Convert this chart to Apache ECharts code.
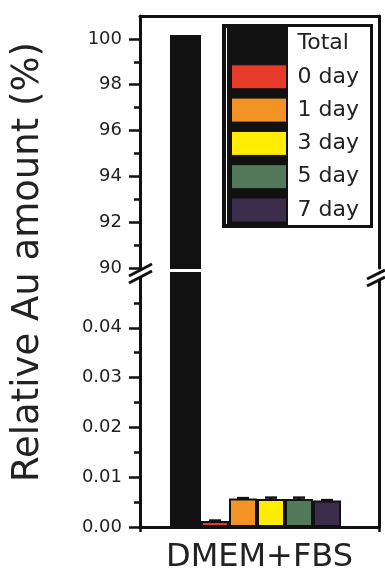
<!DOCTYPE html>
<html><head><meta charset="utf-8">
<script src="https://cdn.jsdelivr.net/npm/echarts@6/dist/echarts.min.js"></script>
<style>html,body{margin:0;padding:0;background:#fff}#c{width:385px;height:574px}</style>
</head><body><div id="c"></div>
<script>
// ---- data ----
const categories = ['DMEM+FBS'];
const seriesNames = ['Total', '0 day', '1 day', '3 day', '5 day', '7 day'];
const seriesValues = [100.17, 0.0012, 0.0057, 0.0056, 0.0056, 0.0053];
const seriesErrors = [0, 0.0001, 0.0001, 0.0003, 0.0003, 0.0001];
const upperTicks = [90, 92, 94, 96, 98, 100];
const upperMinorTicks = [91, 93, 95, 97, 99];
const lowerTicks = [0, 0.01, 0.02, 0.03, 0.04];
const lowerMinorTicks = [0.005, 0.015, 0.025, 0.035, 0.045];
const upperRange = [90, 101];
const lowerRange = [0, 0.051];

// ---- style ----
const seriesColors = ['#111111', '#e63a2a', '#f39225', '#ffec00', '#527a5a', '#3d2d4d'];
const barWidths = [31, 28, 28, 28, 28, 28];
const spacerWidth = 8; // empty slot that shifts the bar group a little to the left
const INK = '#111';
const TXT = '#222';
const FONT = 'DejaVu Sans';

const chart = echarts.init(document.getElementById('c'), null, {renderer: 'canvas'});

function valueAxis(grid, range, pos, opts) {
  return Object.assign({
    gridIndex: grid, type: 'value', min: range[0], max: range[1], position: pos,
    axisLine: {show: false}, axisTick: {show: false}, axisLabel: {show: false},
    splitLine: {show: false}
  }, opts);
}
const lineStyle = {color: INK, width: 3};
const tickStyle = {color: INK, width: 2.5};
const labelStyle = {fontSize: 18, fontFamily: FONT, color: TXT, margin: 18};

const yAxis = [
  valueAxis(0, upperRange, 'left', {
    axisLine: {show: true, lineStyle},
    axisTick: {show: true, length: 11, lineStyle: tickStyle, customValues: upperTicks},
    axisLabel: Object.assign({show: true, customValues: upperTicks}, labelStyle)
  }),
  valueAxis(0, upperRange, 'left', {
    axisTick: {show: true, length: 6, lineStyle: tickStyle, customValues: upperMinorTicks}
  }),
  valueAxis(0, upperRange, 'right', {axisLine: {show: true, lineStyle}}),
  valueAxis(1, lowerRange, 'left', {
    axisLine: {show: true, lineStyle},
    axisTick: {show: true, length: 11, lineStyle: tickStyle, customValues: lowerTicks},
    axisLabel: Object.assign({show: true, customValues: lowerTicks, formatter: v => Number(v).toFixed(2)}, labelStyle)
  }),
  valueAxis(1, lowerRange, 'left', {
    axisTick: {show: true, length: 6, lineStyle: tickStyle, customValues: lowerMinorTicks}
  }),
  valueAxis(1, lowerRange, 'right', {axisLine: {show: true, lineStyle}})
];

const xAxis = [
  {gridIndex: 0, type: 'category', data: categories, position: 'top',
   axisLine: {show: true, onZero: false, lineStyle}, axisTick: {show: false}, axisLabel: {show: false}},
  {gridIndex: 1, type: 'category', data: categories, position: 'bottom',
   axisLine: {show: true, onZero: false, lineStyle},
   axisTick: {show: true, length: 5, lineStyle: tickStyle},
   axisLabel: {fontSize: 32, fontFamily: FONT, color: TXT, margin: 15}}
];

const series = [];
seriesNames.forEach((name, i) => {
  const common = {
    type: 'bar', name, barWidth: barWidths[i], barGap: '0%',
    itemStyle: {color: seriesColors[i], borderColor: INK, borderWidth: 2},
    emphasis: {disabled: true}, clip: true
  };
  series.push(Object.assign({}, common, {xAxisIndex: 0, yAxisIndex: 0,
    data: [seriesValues[i] >= upperRange[0] ? seriesValues[i] : null]}));
  series.push(Object.assign({}, common, {xAxisIndex: 1, yAxisIndex: 3,
    data: [seriesValues[i]]}));
});
// empty spacer slots (no data) on both grids
[[0, 0], [1, 3]].forEach(([xi, yi]) => series.push({
  type: 'bar', name: '_spacer', xAxisIndex: xi, yAxisIndex: yi, barWidth: spacerWidth, barGap: '0%',
  data: [null], silent: true
}));

const errData = [];
seriesNames.forEach((n, i) => { if (seriesErrors[i] > 0) errData.push([0, seriesValues[i], seriesErrors[i], i]); });
const totalW = barWidths.reduce((a, b) => a + b, 0) + spacerWidth;
series.push({
  type: 'custom', xAxisIndex: 1, yAxisIndex: 3, z: 3, data: errData,
  renderItem(params, api) {
    const cat = api.value(0), v = api.value(1), e = api.value(2), idx = api.value(3);
    const cx = api.coord([cat, 0])[0];
    let left = cx - totalW / 2;
    for (let k = 0; k < idx; k++) left += barWidths[k];
    const x = left + barWidths[idx] / 2;
    const y0 = api.coord([cat, v])[1];
    const y1 = api.coord([cat, v + e])[1];
    const st = {stroke: INK, lineWidth: 2.5, fill: null};
    return {type: 'group', children: [
      {type: 'line', shape: {x1: x, y1: y0, x2: x, y2: y1}, style: st},
      {type: 'line', shape: {x1: x - 6, y1: y1, x2: x + 6, y2: y1}, style: st}
    ]};
  }
});

const graphic = [
  // legend frame
  {type: 'rect', z: 5, shape: {x: 222, y: 24, width: 151, height: 204}, style: {fill: INK}},
  {type: 'rect', z: 6, shape: {x: 288, y: 27, width: 82, height: 198}, style: {fill: '#fff'}},
  {type: 'line', z: 6, shape: {x1: 226.5, y1: 28, x2: 226.5, y2: 224}, style: {stroke: '#fff', lineWidth: 1}},
  // break marks left
  {type: 'polygon', z: 20, shape: {points: [[129, 276], [152, 264], [152, 271], [129, 283]]}, style: {fill: '#fff'}},
  {type: 'line', z: 21, shape: {x1: 129, y1: 276, x2: 152, y2: 264}, style: {stroke: INK, lineWidth: 3}},
  {type: 'line', z: 21, shape: {x1: 129, y1: 283, x2: 152, y2: 271}, style: {stroke: INK, lineWidth: 3}},
  // break marks right
  {type: 'polygon', z: 20, shape: {points: [[367, 279], [385, 270], [385, 277], [367, 286]]}, style: {fill: '#fff'}},
  {type: 'line', z: 21, shape: {x1: 367, y1: 279, x2: 385, y2: 270}, style: {stroke: INK, lineWidth: 3}},
  {type: 'line', z: 21, shape: {x1: 367, y1: 286, x2: 385, y2: 277}, style: {stroke: INK, lineWidth: 3}},
  // y title
  {type: 'text', z: 10, x: 28, y: 262, rotation: Math.PI / 2,
   style: {text: 'Relative Au amount (%)', fontSize: 37, fontFamily: FONT, fill: TXT, align: 'center', verticalAlign: 'middle'}}
];

chart.setOption({
  animation: false,
  backgroundColor: '#fff',
  grid: [
    {left: 140, right: 6, top: 16, height: 252},
    {left: 140, right: 6, top: 273, height: 256}
  ],
  xAxis, yAxis, series, graphic,
  legend: {
    orient: 'vertical', left: 231, top: 31, z: 10, padding: 0,
    itemWidth: 55, itemHeight: 24, itemGap: 8.3, icon: 'rect',
    data: seriesNames, selectedMode: false,
    itemStyle: {borderColor: INK, borderWidth: 1},
    textStyle: {fontSize: 22, fontFamily: FONT, color: TXT, lineHeight: 24, padding: [0, 0, 0, 6]}
  }
});
</script></body></html>
